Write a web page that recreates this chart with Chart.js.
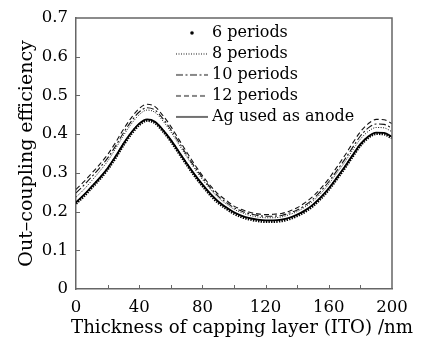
<!DOCTYPE html>
<html><head><meta charset="utf-8">
<script src="https://cdn.jsdelivr.net/npm/chart.js@4.4.1/dist/chart.umd.min.js"></script>
<style>html,body{margin:0;padding:0;background:#fff;}canvas{display:block;}</style>
</head><body>
<canvas id="c" width="426" height="345"></canvas>
<script>
// ---- data ----
const thickness = [0,5,10,15,20,25,30,35,40,45,50,55,60,65,70,75,80,85,90,95,100,105,110,115,120,125,130,135,140,145,150,155,160,165,170,175,180,185,190,195,200];
const periods6  = [0.221,0.240,0.262,0.284,0.309,0.339,0.372,0.401,0.424,0.435,0.429,0.408,0.382,0.352,0.322,0.293,0.267,0.243,0.223,0.208,0.195,0.186,0.180,0.176,0.174,0.174,0.176,0.181,0.189,0.200,0.215,0.234,0.257,0.284,0.312,0.342,0.371,0.391,0.401,0.400,0.390];
const periods8  = [0.237,0.257,0.280,0.304,0.330,0.362,0.396,0.426,0.450,0.462,0.456,0.434,0.406,0.374,0.342,0.311,0.283,0.258,0.236,0.220,0.206,0.197,0.190,0.186,0.184,0.184,0.186,0.192,0.200,0.212,0.227,0.247,0.271,0.299,0.327,0.358,0.387,0.407,0.417,0.416,0.406];
const periods10 = [0.248,0.268,0.290,0.313,0.338,0.369,0.403,0.433,0.457,0.468,0.462,0.440,0.412,0.380,0.347,0.316,0.288,0.262,0.240,0.224,0.210,0.201,0.194,0.190,0.188,0.188,0.190,0.196,0.204,0.216,0.232,0.253,0.277,0.305,0.334,0.365,0.395,0.416,0.426,0.425,0.415];
const periods12 = [0.257,0.277,0.299,0.322,0.347,0.378,0.412,0.442,0.466,0.477,0.471,0.448,0.420,0.387,0.354,0.322,0.293,0.267,0.245,0.229,0.214,0.205,0.198,0.194,0.192,0.193,0.195,0.201,0.210,0.223,0.239,0.260,0.285,0.314,0.344,0.376,0.406,0.427,0.438,0.437,0.427];
const agAnode   = [0.224,0.243,0.265,0.287,0.312,0.342,0.375,0.404,0.427,0.438,0.432,0.411,0.385,0.355,0.325,0.296,0.270,0.246,0.226,0.211,0.198,0.189,0.183,0.179,0.177,0.177,0.179,0.184,0.192,0.203,0.218,0.237,0.260,0.287,0.315,0.345,0.374,0.394,0.404,0.403,0.393];
const seriesNames = ['6 periods','8 periods','10 periods','12 periods','Ag used as anode'];
const xTickLabels = [0,40,80,120,160,200];
const yTickLabels = ['0','0.1','0.2','0.3','0.4','0.5','0.6','0.7'];

const FONT = "'DejaVu Serif', 'Liberation Serif', serif";
const toPts = ys => thickness.map((x, i) => ({x: x, y: ys[i]}));

function swatch(dash, lw, dot) {
  const c = document.createElement('canvas');
  c.width = 32; c.height = 8;
  const g = c.getContext('2d');
  g.strokeStyle = '#111'; g.fillStyle = '#000';
  if (dot) {
    g.beginPath(); g.arc(16, 4, 1.8, 0, Math.PI * 2); g.fill();
  } else {
    g.lineWidth = lw; g.setLineDash(dash);
    g.beginPath(); g.moveTo(0, 4); g.lineTo(32, 4); g.stroke();
  }
  return c;
}
const swatches = [
  swatch(null, 0, true),
  swatch([1, 1.5], 1),
  swatch([7, 2.5, 2, 2.5], 1),
  swatch([5, 3], 1),
  swatch([], 1.2)
];

const common = {pointRadius: 0, pointHoverRadius: 0, cubicInterpolationMode: 'monotone', fill: false};
const datasets = [
  Object.assign({label: seriesNames[0], data: toPts(periods6), borderColor: '#000', borderWidth: 2.8, borderDash: [1.4, 1.2]}, common),
  Object.assign({label: seriesNames[1], data: toPts(periods8), borderColor: '#111', borderWidth: 1, borderDash: [1, 1.5]}, common),
  Object.assign({label: seriesNames[2], data: toPts(periods10), borderColor: '#111', borderWidth: 1.1, borderDash: [7, 2.5, 2, 2.5]}, common),
  Object.assign({label: seriesNames[3], data: toPts(periods12), borderColor: '#111', borderWidth: 1.1, borderDash: [5, 3]}, common),
  Object.assign({label: seriesNames[4], data: toPts(agAnode), borderColor: '#000', borderWidth: 1.8}, common)
];

const legendPlace = {
  id: 'legendPlace',
  afterLayout(chart) {
    const lg = chart.legend, a = chart.chartArea;
    const w = lg.width, h = lg.height;
    lg.left = a.left + 99; lg.top = a.top + 2;
    lg.right = lg.left + w; lg.bottom = lg.top + h;
    // let the x-axis title use the full canvas width (no squeezing), centred like the reference
    const xs = chart.scales.x;
    if (!xs._titlePatched) {
      const orig = xs.drawTitle;
      xs.drawTitle = function () {
        const l = this.left, r = this.right;
        this.left = l - 14; this.right = r + 30;
        orig.call(this);
        this.left = l; this.right = r;
      };
      xs._titlePatched = true;
    }
  }
};

const framePlugin = {
  id: 'frame',
  afterDatasetsDraw(chart) {
    const {ctx, chartArea: a, scales: {x, y}} = chart;
    ctx.save();
    ctx.strokeStyle = '#666';
    ctx.lineWidth = 1.5;
    ctx.beginPath();
    ctx.moveTo(a.left, a.top); ctx.lineTo(a.right, a.top); ctx.lineTo(a.right, a.bottom);
    ctx.stroke();
    ctx.lineWidth = 1;
    ctx.beginPath();
    x.ticks.forEach(t => {
      if (t.value <= x.min || t.value >= x.max) return;
      const px = Math.round(x.getPixelForValue(t.value)) + 0.5;
      ctx.moveTo(px, a.bottom); ctx.lineTo(px, a.bottom - 4);
    });
    y.ticks.forEach(t => {
      if (t.value <= y.min || t.value >= y.max) return;
      const py = Math.round(y.getPixelForValue(t.value)) + 0.5;
      ctx.moveTo(a.left, py); ctx.lineTo(a.left + 4, py);
    });
    ctx.stroke();
    ctx.restore();
  }
};

new Chart(document.getElementById('c'), {
  type: 'line',
  data: {datasets: datasets},
  plugins: [legendPlace, framePlugin],
  options: {
    responsive: false,
    animation: false,
    devicePixelRatio: 1,
    layout: {padding: {top: 14, right: 34, left: 0, bottom: 0}},
    plugins: {
      tooltip: {enabled: false},
      legend: {
        position: 'chartArea',
        align: 'start',
        labels: {
          usePointStyle: true,
          pointStyleWidth: 24,
          boxHeight: 16,
          padding: 5,
          color: '#000',
          font: {family: FONT, size: 16},
          generateLabels(chart) {
            const items = Chart.defaults.plugins.legend.labels.generateLabels(chart);
            items.forEach((it, i) => { it.pointStyle = swatches[i]; it.fontColor = '#000'; });
            return items;
          }
        }
      }
    },
    scales: {
      x: {
        type: 'linear', min: 0, max: 200,
        grid: {display: false, drawTicks: false},
        border: {display: true, color: '#666', width: 1.5},
        ticks: {
          stepSize: 20, autoSkip: false, maxRotation: 0, padding: 9, color: '#000',
          font: {family: FONT, size: 16.5},
          callback: v => xTickLabels.includes(v) ? String(v) : ''
        },
        title: {display: true, text: 'Thickness of capping layer (ITO) /nm', color: '#000',
          font: {family: FONT, size: 18.2}, padding: {top: 0, bottom: 6}},
        afterFit(s) { s.height = 56; }
      },
      y: {
        min: 0, max: 0.7,
        grid: {display: false, drawTicks: false},
        border: {display: true, color: '#666', width: 1.5},
        ticks: {
          stepSize: 0.1, padding: 8, color: '#000',
          font: {family: FONT, size: 16.5},
          callback: v => yTickLabels[Math.round(v * 10)]
        },
        title: {display: true, text: 'Out\u2013coupling efficiency', color: '#000',
          font: {family: FONT, size: 19}, padding: {top: 16, bottom: 0}},
        afterFit(s) { s.width = 76; }
      }
    }
  }
});
</script>
</body></html>
